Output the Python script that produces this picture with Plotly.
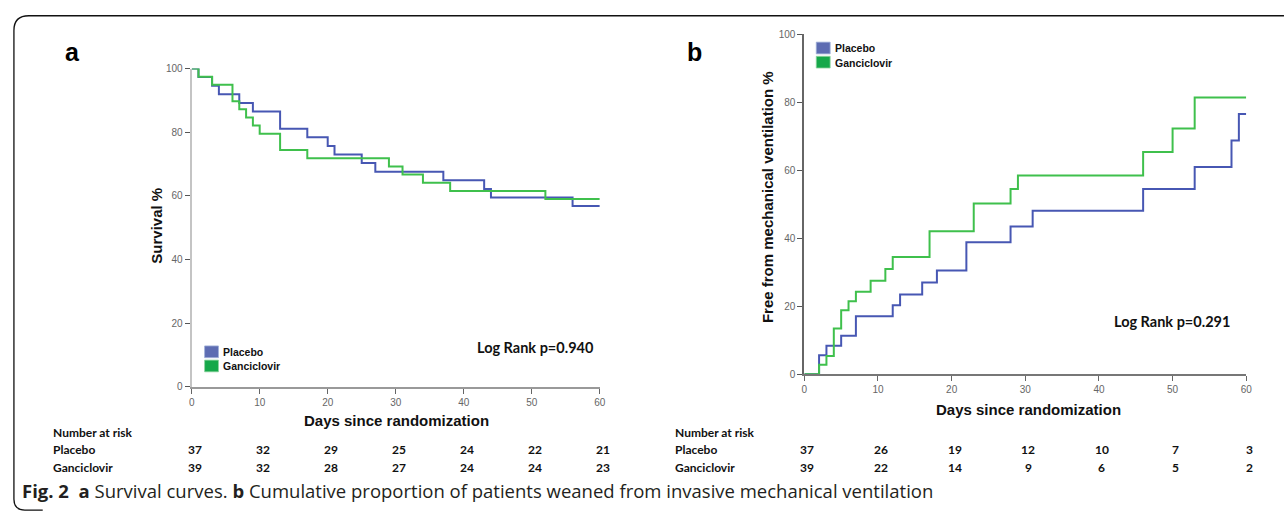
import plotly.graph_objects as go

W, H = 1285, 518

# ---------------- Data ----------------
# Panel a: survival (%) step curves
a_placebo_days = [0, 1, 3, 4, 7, 9, 13, 17, 20, 21, 25, 27, 37, 43, 44, 56, 60]
a_placebo_surv = [100, 97.3, 94.6, 91.9, 89.2, 86.5, 81.1, 78.4, 75.7, 73.0, 70.3, 67.6, 64.9, 62.2, 59.5, 56.8, 56.8]
a_ganc_days = [0, 1, 3, 6, 7, 8, 9, 10, 13, 17, 29, 31, 34, 38, 52, 60]
a_ganc_surv = [100, 97.4, 94.9, 89.7, 87.2, 84.6, 82.1, 79.5, 74.4, 71.8, 69.2, 66.7, 64.1, 61.5, 59.0, 59.0]

# Panel b: free from mechanical ventilation (%) step curves
b_placebo_days = [0, 2, 3, 5, 7, 12, 13, 16, 18, 22, 28, 31, 46, 53, 58, 59, 60]
b_placebo_vals = [0, 5.6, 8.4, 11.3, 17.1, 20.3, 23.5, 27.0, 30.5, 38.8, 43.5, 48.1, 54.5, 61.0, 68.8, 76.6, 76.6]
b_ganc_days = [0, 2, 3, 4, 5, 6, 7, 9, 11, 12, 17, 23, 28, 29, 46, 50, 53, 60]
b_ganc_vals = [0, 2.8, 5.4, 13.5, 18.8, 21.5, 24.3, 27.5, 31.0, 34.5, 42.1, 50.2, 54.5, 58.5, 65.4, 72.3, 81.4, 81.4]

risk_days = [0, 10, 20, 30, 40, 50, 60]
a_risk_placebo = [37, 32, 29, 25, 24, 22, 21]
a_risk_ganc = [39, 32, 28, 27, 24, 24, 23]
b_risk_placebo = [37, 26, 19, 12, 10, 7, 3]
b_risk_ganc = [39, 22, 14, 9, 6, 5, 2]

x_ticks = [0, 10, 20, 30, 40, 50, 60]
y_ticks = [0, 20, 40, 60, 80, 100]

group_names = ["Placebo", "Ganciclovir"]
line_colors = ["#4757b3", "#3fc04c"]
legend_colors = ["#5d6cb2", "#16a84a"]

# ---------------- Layout geometry (pixels) ----------------
A_X0, A_X1, A_Y0, A_Y1 = 190, 601, 64, 390
B_X0, B_X1, B_Y0, B_Y1 = 807, 1252, 29, 377


def px(x):
    return x / W


def py(y):
    return 1 - y / H


fig = go.Figure()

for days, vals, col, ax, name in [
    (a_placebo_days, a_placebo_surv, line_colors[0], ("x", "y"), group_names[0]),
    (a_ganc_days, a_ganc_surv, line_colors[1], ("x", "y"), group_names[1]),
    (b_placebo_days, b_placebo_vals, line_colors[0], ("x2", "y2"), group_names[0]),
    (b_ganc_days, b_ganc_vals, line_colors[1], ("x2", "y2"), group_names[1]),
]:
    fig.add_trace(go.Scatter(x=days, y=vals, mode="lines", line=dict(color=col, width=2, shape="hv"),
                             xaxis=ax[0], yaxis=ax[1], showlegend=False, name=name))

tickfont = dict(family="Liberation Sans", size=10, color="#666666")


def xaxis_cfg(domain, anchor, linecolor):
    return dict(domain=domain, anchor=anchor, range=[0, 60], tickvals=x_ticks, ticks="outside", ticklen=5,
                tickcolor="#666666", tickwidth=1.2, showline=True, linecolor=linecolor, linewidth=2,
                showgrid=False, zeroline=False, tickfont=tickfont, fixedrange=True)


def yaxis_cfg(domain, anchor, linecolor):
    return dict(domain=domain, anchor=anchor, range=[0, 100], tickvals=y_ticks, ticks="outside", ticklen=5,
                tickcolor="#555555", tickwidth=1.2, showline=True, linecolor=linecolor, linewidth=2,
                showgrid=False, zeroline=False, tickfont=tickfont, fixedrange=True)


fig.update_layout(
    width=W, height=H,
    margin=dict(l=0, r=0, t=0, b=0),
    paper_bgcolor="white", plot_bgcolor="white",
    xaxis=xaxis_cfg([px(A_X0), px(A_X1)], "y", "#999999"),
    yaxis=yaxis_cfg([py(A_Y1), py(A_Y0)], "x", "#c4c4c4"),
    xaxis2=xaxis_cfg([px(B_X0), px(B_X1)], "y2", "#777777"),
    yaxis2=yaxis_cfg([py(B_Y1), py(B_Y0)], "x2", "#666666"),
)

ann = []
shapes = []


def text(x, y, s, size, family="Liberation Sans", bold=True, color="#111111", xanchor="left", textangle=0):
    ann.append(dict(x=px(x), y=py(y), xref="paper", yref="paper",
                    text=f"<b>{s}</b>" if bold else s, showarrow=False, xanchor=xanchor, yanchor="middle",
                    textangle=textangle, font=dict(family=family, size=size, color=color)))


# Panel labels
text(70, 47, "a", 25, xanchor="center", color="#000000")
text(696, 47, "b", 25, xanchor="center", color="#000000")

# Axis titles
text(155, 225, "Survival %", 15, xanchor="center", textangle=-90)
text(396, 424, "Days since randomization", 15, xanchor="center")
text(770, 196, "Free from mechanical ventilation %", 15, xanchor="center", textangle=-90)
text(1033, 413, "Days since randomization", 15, xanchor="center")

# Log rank
text(475, 350, "Log Rank p=0.940", 14.5, family="Lato")
text(1117, 323, "Log Rank p=0.291", 14.5, family="Lato")

# Legends
for (sx, sy0, tx) in [(203, 348, 220), (819, 37, 836)]:
    for i, name in enumerate(group_names):
        y0 = sy0 + i * 14.5
        shapes.append(dict(type="rect", xref="paper", yref="paper", x0=px(sx), x1=px(sx + 14), y0=py(y0 + 12), y1=py(y0),
                           fillcolor=legend_colors[i], line=dict(width=0.8, color="#9fb0d8" if i == 0 else "#8fd49f")))
        text(tx, y0 + 6.5, name, 10.5, color="#111111")

# Number at risk tables (positions follow each panel's x scale)
for (lx, x0, x1, rp, rg) in [(48, A_X0, A_X1, a_risk_placebo, a_risk_ganc),
                             (675, B_X0, B_X1, b_risk_placebo, b_risk_ganc)]:
    text(lx, 437, "Number at risk", 12, family="Lato")
    text(lx, 454, group_names[0], 12, family="Lato")
    text(lx, 472, group_names[1], 12, family="Lato")
    for d, vp, vg in zip(risk_days, rp, rg):
        xpix = x0 + (x1 - x0) * d / 60 + 3
        text(xpix, 454, str(vp), 12, family="Lato", xanchor="center")
        text(xpix, 472, str(vg), 12, family="Lato", xanchor="center")

# Caption
ann.append(dict(x=px(17), y=py(496), xref="paper", yref="paper", showarrow=False, xanchor="left", yanchor="middle",
                text="<b>Fig. 2</b>  <b>a</b> Survival curves. <b>b</b> Cumulative proportion of patients weaned from invasive mechanical ventilation",
                font=dict(family="Open Sans", size=18.5, color="#231f20")))

# Frame (rounded top-left / bottom-left)
frame_path = (f"M {px(1290)},{py(10)} L {px(26)},{py(10)} Q {px(11)},{py(10)} {px(11)},{py(25)} "
              f"L {px(11)},{py(505)} Q {px(11)},{py(516)} {px(22)},{py(516)} L {px(40)},{py(516)}")
shapes.append(dict(type="path", xref="paper", yref="paper", path=frame_path, line=dict(color="#111111", width=1.3)))

fig.update_layout(annotations=ann, shapes=shapes)

post = ("document.body.style.margin='0';document.body.style.padding='0';"
        "document.body.style.overflow='hidden';"
        "var d=document.getElementById('{plot_id}');"
        "d.style.position='fixed';d.style.top='0';d.style.left='0';")

fig.write_html("out.html", config={"displayModeBar": False}, post_script=post)
